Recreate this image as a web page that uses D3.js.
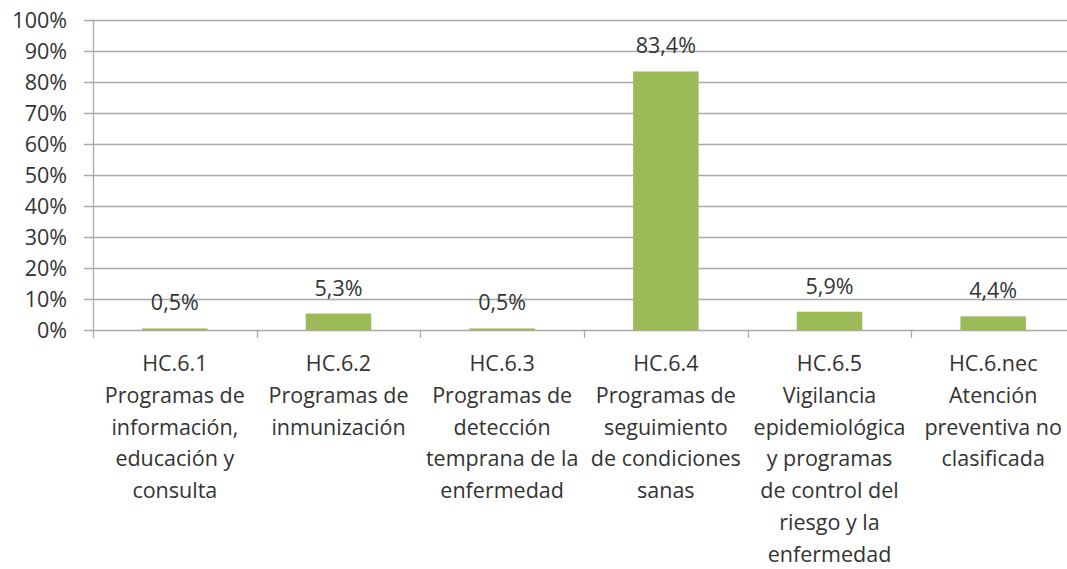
<!DOCTYPE html>
<html>
<head>
<meta charset="utf-8">
<script src="https://cdn.jsdelivr.net/npm/d3@7"></script>
<style>
  body { margin: 0; background: #fff; }
  svg text { font-family: "Open Sans", sans-serif; fill: #333; }
</style>
</head>
<body>
<svg width="1067" height="569"></svg>
<script>
var codes = ["HC.6.1", "HC.6.2", "HC.6.3", "HC.6.4", "HC.6.5", "HC.6.nec"];
var labelLines = [
  ["HC.6.1", "Programas de", "información,", "educación y", "consulta"],
  ["HC.6.2", "Programas de", "inmunización"],
  ["HC.6.3", "Programas de", "detección", "temprana de la", "enfermedad"],
  ["HC.6.4", "Programas de", "seguimiento", "de condiciones", "sanas"],
  ["HC.6.5", "Vigilancia", "epidemiológica", "y programas", "de control del", "riesgo y la", "enfermedad"],
  ["HC.6.nec", "Atención", "preventiva no", "clasificada"]
];
var shares = [0.005, 0.053, 0.005, 0.834, 0.059, 0.044];
var yTicks = [0, 0.1, 0.2, 0.3, 0.4, 0.5, 0.6, 0.7, 0.8, 0.9, 1];

var svg = d3.select("svg");
var gridColor = "#a9a9a9";
var barColor = "#9bbb59";
var fs = "21.5px";

var x = d3.scaleBand().domain(codes).range([93, 1075]).padding(0);
var y = d3.scaleLinear().domain([0, 1]).range([330, 20]);

var es = d3.formatLocale({decimal: ",", thousands: ".", grouping: [3], currency: ["", "€"]});
var pct = es.format(".1%");

// gridlines
svg.append("g").selectAll("line")
  .data(yTicks)
  .enter().append("line")
    .attr("x1", 84).attr("x2", 1075)
    .attr("y1", function(d) { return Math.round(y(d)) + 0.5; })
    .attr("y2", function(d) { return Math.round(y(d)) + 0.5; })
    .style("stroke", gridColor).style("stroke-width", 1.3);

// y labels
svg.append("g").selectAll("text")
  .data(yTicks)
  .enter().append("text")
    .attr("x", 67)
    .attr("y", function(d) { return y(d); })
    .attr("dy", "0.36em")
    .attr("text-anchor", "end")
    .style("font-size", fs)
    .text(d3.format(".0%"));

// y axis line
svg.append("line")
  .attr("x1", 93.5).attr("x2", 93.5).attr("y1", y(1)).attr("y2", y(0))
  .style("stroke", gridColor).style("stroke-width", 1.3);

// x ticks between categories
var bounds = codes.map(function(c) { return x(c); }).concat([x.range()[1]]);
svg.append("g").selectAll("line")
  .data(bounds)
  .enter().append("line")
    .attr("x1", function(d) { return Math.round(d) + 0.5; })
    .attr("x2", function(d) { return Math.round(d) + 0.5; })
    .attr("y1", y(0)).attr("y2", y(0) + 8)
    .style("stroke", gridColor).style("stroke-width", 1.3);

// bars
var bw = x.bandwidth() * 0.4;
svg.append("g").selectAll("rect")
  .data(shares)
  .enter().append("rect")
    .attr("x", function(d, i) { return x(codes[i]) + x.bandwidth() / 2 - bw / 2; })
    .attr("y", function(d) { return y(d); })
    .attr("width", bw)
    .attr("height", function(d) { return y(0) - y(d); })
    .style("fill", barColor);

// value labels
svg.append("g").selectAll("text")
  .data(shares)
  .enter().append("text")
    .attr("x", function(d, i) { return x(codes[i]) + x.bandwidth() / 2; })
    .attr("y", function(d) { return y(d) - 18; })
    .attr("text-anchor", "middle")
    .style("font-size", fs)
    .text(pct);

// category labels
var cat = svg.append("g").selectAll("text")
  .data(labelLines)
  .enter().append("text")
    .attr("text-anchor", "middle")
    .style("font-size", fs);

cat.each(function(lines, i) {
  var t = d3.select(this);
  lines.forEach(function(s, j) {
    t.append("tspan")
      .attr("x", x(codes[i]) + x.bandwidth() / 2)
      .attr("y", 371 + j * 31.8)
      .text(s);
  });
});
</script>
</body>
</html>
